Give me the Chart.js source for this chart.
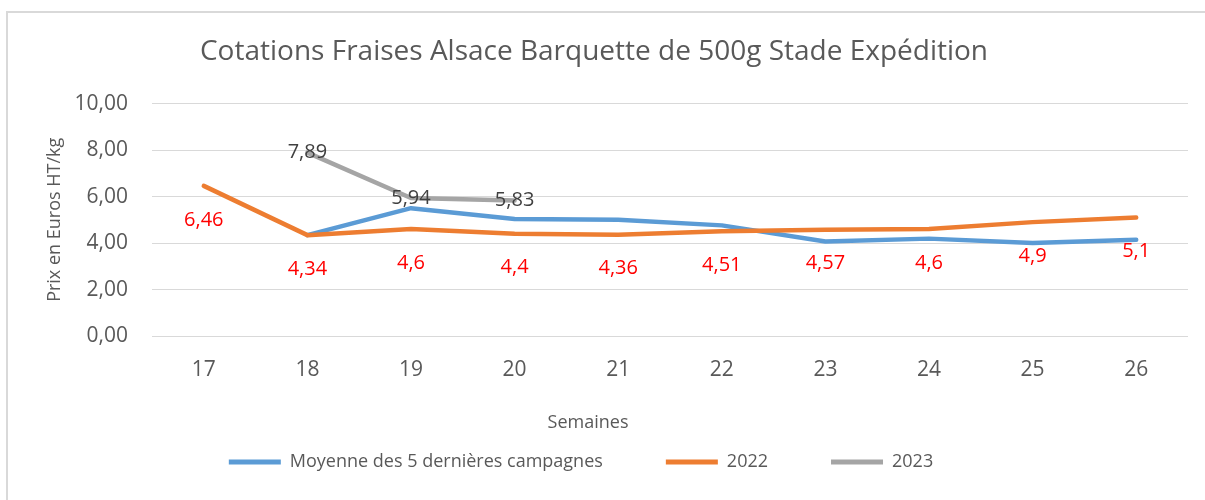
<!DOCTYPE html>
<html><head><meta charset="utf-8">
<script src="https://cdn.jsdelivr.net/npm/chart.js@4.4.1/dist/chart.umd.min.js"></script>
<style>html,body{margin:0;padding:0;background:#fff}</style>
</head><body>
<canvas id="c" width="1205" height="500" style="display:block;width:1205px;height:500px"></canvas>
<script>
// ---- data ----
const weeks = ['17', '18', '19', '20', '21', '22', '23', '24', '25', '26'];
const avg5 = [null, 4.34, 5.5, 5.03, 5.0, 4.76, 4.07, 4.19, 4.0, 4.14];
const y2022 = [6.46, 4.34, 4.6, 4.4, 4.36, 4.51, 4.57, 4.6, 4.9, 5.1];
const y2023 = [null, 7.89, 5.94, 5.83, null, null, null, null, null, null];
const seriesNames = ['Moyenne des 5 dernières campagnes', '2022', '2023'];
const yTickValues = [0, 2, 4, 6, 8, 10];
const xTitle = 'Semaines';

const FONT = "'Open Sans', 'Noto Sans', sans-serif";
const TXT = '#595959';
const LEGEND_PAD = 63;
const LEGEND_SIZE = 18;

const fmt = v => String(v).replace('.', ',');

const borderPlugin = {
  id: 'frame',
  beforeDraw(chart) {
    const ctx = chart.ctx;
    ctx.save();
    ctx.fillStyle = '#fff';
    ctx.fillRect(0, 0, chart.width, chart.height);
    ctx.strokeStyle = '#d9d9d9';
    ctx.lineWidth = 2;
    ctx.strokeRect(7, 12, chart.width + 20, chart.height + 20);
    ctx.restore();
  },
  afterDraw(chart) {
    // x-axis title, placed off-centre as in the reference
    const ctx = chart.ctx;
    ctx.save();
    ctx.font = '18px ' + FONT;
    ctx.fillStyle = TXT;
    ctx.textAlign = 'center';
    ctx.textBaseline = 'middle';
    ctx.fillText(xTitle, 588, 423);
    ctx.restore();
  }
};

const valuePlugin = {
  id: 'values',
  afterDatasetsDraw(chart) {
    const ctx = chart.ctx;
    chart.data.datasets.forEach((ds, i) => {
      const cfg = ds.valueLabels;
      if (!cfg) return;
      const meta = chart.getDatasetMeta(i);
      meta.data.forEach((pt, j) => {
        const v = ds.data[j];
        if (v == null) return;
        ctx.save();
        ctx.font = '20px ' + FONT;
        ctx.fillStyle = cfg.color;
        ctx.textAlign = 'center';
        ctx.textBaseline = 'middle';
        ctx.fillText(fmt(v), pt.x, pt.y + cfg.dy);
        ctx.restore();
      });
    });
  }
};

// place the legend row where the reference has it
const legendShift = {
  id: 'legendShift',
  afterLayout(chart) {
    const lg = chart.legend;
    if (!lg) return;
    const dy = 462 - (lg.top + LEGEND_PAD + LEGEND_SIZE / 2);
    lg.top += dy; lg.bottom += dy;
    lg.left -= 13; lg.right -= 13;
  }
};

const lineDs = (label, data, color, order, extra) => Object.assign({
  label, data, borderColor: color, backgroundColor: color,
  borderWidth: 4.5, pointRadius: 0, pointHoverRadius: 0, tension: 0,
  borderCapStyle: 'round', borderJoinStyle: 'round', order, spanGaps: false
}, extra || {});

new Chart(document.getElementById('c'), {
  type: 'line',
  data: {
    labels: weeks,
    datasets: [
      lineDs(seriesNames[0], avg5, '#5B9BD5', 2),
      lineDs(seriesNames[1], y2022, '#ED7D31', 1, { valueLabels: { color: '#FF0000', dy: 34 } }),
      lineDs(seriesNames[2], y2023, '#A5A5A5', 0, { valueLabels: { color: '#404040', dy: 0 } })
    ]
  },
  options: {
    responsive: false,
    animation: false,
    events: [],
    layout: { padding: { left: 0, right: 17, top: 12, bottom: -34 } },
    plugins: {
      tooltip: { enabled: false },
      title: {
        display: true,
        text: 'Cotations Fraises Alsace Barquette de 500g Stade Expédition',
        color: TXT,
        font: { family: FONT, size: 28, weight: 'normal', lineHeight: 1.2 },
        padding: { top: 23, bottom: 35 }
      },
      legend: {
        position: 'bottom',
        labels: {
          color: TXT,
          font: { family: FONT, size: LEGEND_SIZE },
          boxWidth: 52,
          boxHeight: 5,
          padding: LEGEND_PAD,
          sort: (a, b) => a.datasetIndex - b.datasetIndex,
          generateLabels: chart => chart.data.datasets.map((ds, i) => ({
            text: ds.label, fillStyle: ds.borderColor, strokeStyle: ds.borderColor,
            lineWidth: 0, datasetIndex: i, fontColor: TXT, hidden: false
          }))
        }
      }
    },
    scales: {
      x: {
        offset: true,
        grid: { display: false, drawTicks: false, offset: true },
        border: { display: false },
        ticks: { color: TXT, font: { family: FONT, size: 21 }, padding: 21 },
        title: { display: false },
        afterFit: s => { s.height = 107; }
      },
      y: {
        min: 0, max: 10,
        afterBuildTicks: s => { s.ticks = yTickValues.map(v => ({ value: v })); },
        grid: { color: '#d9d9d9', lineWidth: 1, drawTicks: false },
        border: { display: false },
        ticks: {
          color: TXT, font: { family: FONT, size: 21 }, padding: 24,
          callback: v => Number(v).toFixed(2).replace('.', ',')
        },
        title: {
          display: true, text: 'Prix en Euros HT/kg', color: TXT,
          font: { family: FONT, size: 18 }, padding: { top: 44, bottom: 0 }
        },
        afterFit: s => { s.width = 152; }
      }
    }
  },
  plugins: [borderPlugin, valuePlugin, legendShift]
});
</script>
</body></html>
